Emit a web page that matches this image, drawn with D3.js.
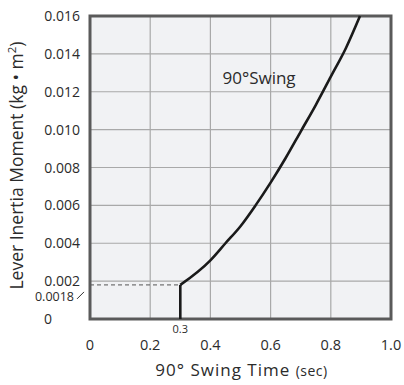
<!DOCTYPE html>
<html>
<head>
<meta charset="utf-8">
<script src="https://cdn.jsdelivr.net/npm/d3@7"></script>
<style>
  html, body { margin: 0; padding: 0; background: #ffffff; }
  svg { display: block; }
  text { font-family: "Open Sans", "Noto Sans", sans-serif; fill: #2b2b2b; }
</style>
</head>
<body>
<svg id="chart" width="404" height="385"></svg>
<script>
// Swing time (sec) vs. allowable lever inertia moment (kg·m²), 90° swing
const swingTime = [0.3, 0.3, 0.4, 0.45, 0.5, 0.55, 0.6, 0.65, 0.7, 0.75, 0.8, 0.85, 0.897];
const inertia   = [0, 0.0018, 0.0031, 0.0040, 0.0049, 0.0060, 0.0072, 0.0085, 0.0099, 0.0113, 0.0128, 0.0143, 0.016];

const xTickValues = [0, 0.2, 0.4, 0.6, 0.8, 1.0];
const xTickLabels = ["0", "0.2", "0.4", "0.6", "0.8", "1.0"];
const yTickValues = [0.002, 0.004, 0.006, 0.008, 0.010, 0.012, 0.014, 0.016];
const yTickLabels = ["0.002", "0.004", "0.006", "0.008", "0.010", "0.012", "0.014", "0.016"];

const minInertia = 0.0018;
const minTime = 0.3;

const svg = d3.select("#chart");
const margin = { left: 90, right: 13, top: 16, bottom: 66 };
const W = 404, H = 385;

const x = d3.scaleLinear().domain([0, 1]).range([margin.left, W - margin.right]);
const y = d3.scaleLinear().domain([0, 0.016]).range([H - margin.bottom, margin.top]);

// plot background
svg.append("rect")
  .attr("x", x(0)).attr("y", y(0.016))
  .attr("width", x(1) - x(0)).attr("height", y(0) - y(0.016))
  .attr("fill", "#f1f2f4");

// grid
const grid = svg.append("g").attr("stroke", "#a9a9a9").attr("stroke-width", 1.2);
grid.selectAll("line.v").data(xTickValues.slice(1, -1)).join("line")
  .attr("x1", d => x(d)).attr("x2", d => x(d))
  .attr("y1", y(0)).attr("y2", y(0.016));
grid.selectAll("line.h").data(yTickValues.slice(0, -1)).join("line")
  .attr("x1", x(0)).attr("x2", x(1))
  .attr("y1", d => y(d)).attr("y2", d => y(d));

// dashed reference at minimum inertia
svg.append("line")
  .attr("x1", x(0)).attr("x2", x(minTime))
  .attr("y1", y(minInertia)).attr("y2", y(minInertia))
  .attr("stroke", "#555").attr("stroke-width", 1)
  .attr("stroke-dasharray", "4,3");

// frame
svg.append("rect")
  .attr("x", x(0)).attr("y", y(0.016))
  .attr("width", x(1) - x(0)).attr("height", y(0) - y(0.016))
  .attr("fill", "none").attr("stroke", "#5a5a5a").attr("stroke-width", 3);

// curve: vertical rise at the minimum time, then smooth rising curve
const pts = swingTime.map((t, i) => [t, inertia[i]]);
svg.append("path")
  .attr("d", d3.line().x(d => x(d[0])).y(d => y(d[1]))(pts.slice(0, 2)))
  .attr("fill", "none").attr("stroke", "#1a1a1a").attr("stroke-width", 2.6);
svg.append("path")
  .attr("d", d3.line().curve(d3.curveMonotoneX).x(d => x(d[0])).y(d => y(d[1]))(pts.slice(1)))
  .attr("fill", "none").attr("stroke", "#1a1a1a").attr("stroke-width", 2.6)
  .attr("stroke-linejoin", "round");

// x tick labels
svg.append("g").selectAll("text").data(xTickValues).join("text")
  .attr("x", d => x(d)).attr("y", y(0) + 31)
  .attr("text-anchor", "middle").attr("font-size", 14.5)
  .text((d, i) => xTickLabels[i]);

// y tick labels
svg.append("g").selectAll("text").data(yTickValues).join("text")
  .attr("x", x(0) - 10).attr("y", d => y(d) + 5)
  .attr("text-anchor", "end").attr("font-size", 14)
  .text((d, i) => yTickLabels[i]);
svg.append("text")
  .attr("x", 44).attr("y", y(0) + 5)
  .attr("font-size", 14).text("0");

// minimum-value annotations
svg.append("text")
  .attr("x", x(0) - 16).attr("y", y(minInertia) + 16)
  .attr("text-anchor", "end").attr("font-size", 12.5)
  .text("0.0018");
svg.append("line")
  .attr("x1", x(0) - 13).attr("y1", y(minInertia) + 14)
  .attr("x2", x(0) - 6).attr("y2", y(minInertia) + 7)
  .attr("stroke", "#333").attr("stroke-width", 1);
svg.append("text")
  .attr("x", x(minTime)).attr("y", y(0) + 14)
  .attr("text-anchor", "middle").attr("font-size", 11)
  .text("0.3");

// series label
svg.append("text")
  .attr("x", x(0.44)).attr("y", y(0.0124))
  .attr("font-size", 17)
  .text("90°Swing");

// axis titles
const xt = svg.append("text")
  .attr("x", (x(0) + x(1)) / 2 + 1).attr("y", H - 9)
  .attr("text-anchor", "middle").attr("font-size", 17)
  .attr("letter-spacing", 1);
xt.append("tspan").text("90° Swing Time ");
xt.append("tspan").attr("font-size", 14).attr("letter-spacing", 0.5).text("(sec)");

const yt = svg.append("text")
  .attr("transform", `translate(23, ${(y(0) + y(0.016)) / 2 - 2}) rotate(-90)`)
  .attr("text-anchor", "middle").attr("font-size", 17.5);
yt.append("tspan").text("Lever Inertia Moment (kg • m");
yt.append("tspan").attr("font-size", 11.5).attr("dy", -7).text("2");
yt.append("tspan").attr("dy", 7).text(")");
</script>
</body>
</html>
